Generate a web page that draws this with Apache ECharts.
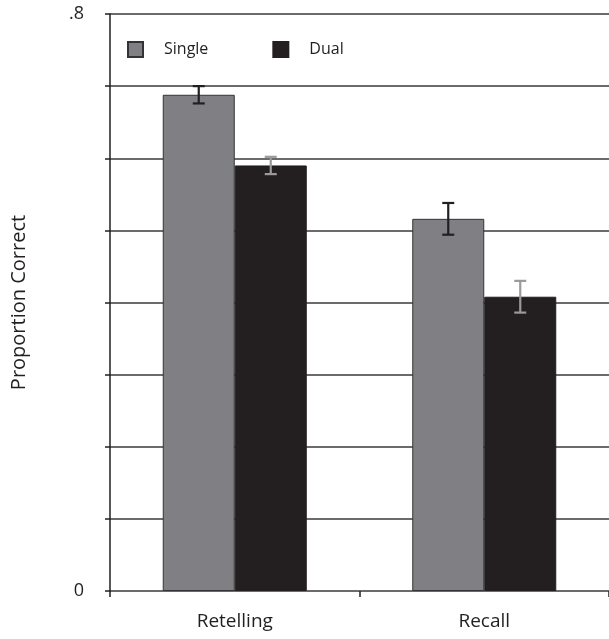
<!DOCTYPE html>
<html>
<head>
<meta charset="utf-8">
<script src="https://cdn.jsdelivr.net/npm/echarts@6/dist/echarts.min.js"></script>
<style>
  html, body { margin: 0; padding: 0; background: #fff; }
  #chart { width: 609px; height: 639px; }
</style>
</head>
<body>
<div id="chart"></div>
<script>
// Data
const categories = ['Retelling', 'Recall'];
const seriesNames = ['Single', 'Dual'];
const singleValues = [0.688, 0.516];
const dualValues = [0.590, 0.408];
const singleErrors = [0.012, 0.022];
const dualErrors = [0.012, 0.022];
const yTickLabels = { 0: '0', 0.8: '.8' };

const ink = '#231f20';
const barWidth = 72;

// Error bars drawn on top of each bar, shifted by half a bar width
const errorSeries = (values, errors, shift, color) => ({
  type: 'custom',
  z: 10,
  data: values.map((v, i) => [i, v - errors[i], v + errors[i]]),
  renderItem: (params, api) => {
    const lo = api.coord([api.value(0), api.value(1)]);
    const hi = api.coord([api.value(0), api.value(2)]);
    const x = lo[0] + shift;
    const cap = 6;
    const style = { stroke: color, lineWidth: 2.2 };
    return {
      type: 'group',
      children: [
        { type: 'line', shape: { x1: x, y1: lo[1], x2: x, y2: hi[1] }, style },
        { type: 'line', shape: { x1: x - cap, y1: lo[1], x2: x + cap, y2: lo[1] }, style },
        { type: 'line', shape: { x1: x - cap, y1: hi[1], x2: x + cap, y2: hi[1] }, style }
      ]
    };
  }
});

const option = {
  animation: false,
  textStyle: { fontFamily: 'Open Sans', color: ink },
  legend: {
    left: 122,
    top: 36,
    itemWidth: 15,
    itemHeight: 15,
    itemGap: 64,
    icon: 'rect',
    data: seriesNames,
    textStyle: { fontSize: 16, color: ink, padding: [0, 0, 0, 16] }
  },
  // the plot runs past the right edge of the picture, as in the reference
  grid: { left: 110, width: 504, top: 14, bottom: 48 },
  xAxis: {
    type: 'category',
    data: categories,
    axisLine: { show: false },
    axisTick: { show: true, length: 6, lineStyle: { color: ink, width: 1.5 } },
    axisLabel: { fontSize: 19, color: ink, margin: 21 }
  },
  yAxis: {
    type: 'value',
    min: 0,
    max: 0.8,
    interval: 0.1,
    name: 'Proportion Correct',
    nameLocation: 'middle',
    nameGap: 81,
    nameTextStyle: { fontSize: 20, color: ink },
    axisLine: { show: true, lineStyle: { color: ink, width: 1.5 } },
    axisTick: { show: true, length: 5, lineStyle: { color: ink, width: 1.5 } },
    axisLabel: {
      fontSize: 18,
      color: ink,
      margin: 26,
      formatter: v => yTickLabels[Math.round(v * 10) / 10] || ''
    },
    splitLine: { show: true, lineStyle: { color: '#3a3a3a', width: 1.5 } }
  },
  series: [
    {
      name: 'Single',
      type: 'bar',
      data: singleValues,
      barWidth: barWidth,
      barGap: '0%',
      itemStyle: { color: '#808084', borderColor: '#333', borderWidth: 1 }
    },
    {
      name: 'Dual',
      type: 'bar',
      data: dualValues,
      barWidth: barWidth,
      barGap: '0%',
      itemStyle: { color: ink, borderColor: ink, borderWidth: 1 }
    },
    errorSeries(singleValues, singleErrors, -barWidth / 2, ink),
    errorSeries(dualValues, dualErrors, barWidth / 2, '#9a9a9a')
  ]
};

const myChart = echarts.init(document.getElementById('chart'));
myChart.setOption(option);
</script>
</body>
</html>
